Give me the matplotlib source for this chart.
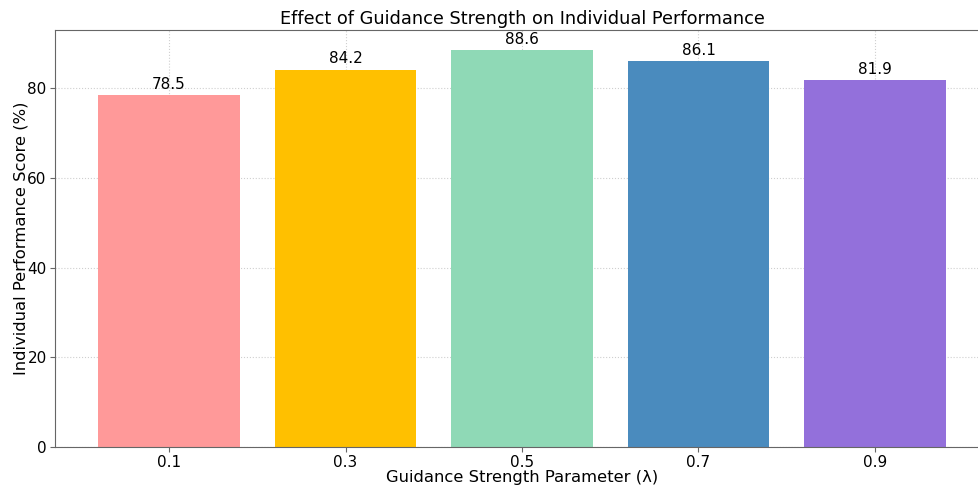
import matplotlib
matplotlib.use("Agg")
import matplotlib.pyplot as plt

categories = ["0.1", "0.3", "0.5", "0.7", "0.9"]
scores = [78.5, 84.2, 88.6, 86.1, 81.9]
colors = ["#FF9999", "#FFC000", "#8FD9B6", "#4A8BBE", "#9370DB"]

W, H = 979, 487
fig = plt.figure(figsize=(W / 100, H / 100), dpi=100)
ax = fig.add_axes([55 / W, (H - 447) / H, 934 / W, 417 / H])

x = list(range(len(categories)))
bars = ax.bar(x, scores, color=colors, width=0.8, zorder=2)
for xi, v in zip(x, scores):
    ax.text(xi, v + 0.7, f"{v}", ha="center", va="bottom", fontsize=11)

ax.set_xticks(x)
ax.set_xticklabels(categories, fontsize=11)
ax.tick_params(axis="both", labelsize=11, length=3.5, pad=2.5, color="#666666")
ax.set_xlim(-0.646, len(categories) - 1 + 0.646)
ax.set_ylim(0, max(scores) * 1.05)
ax.set_yticks([0, 20, 40, 60, 80])
ax.grid(True, linestyle=":", color="#bbbbbb", alpha=0.7, zorder=0)
ax.set_axisbelow(True)
for s in ax.spines.values():
    s.set_color("#666666")
ax.set_title("Effect of Guidance Strength on Individual Performance", fontsize=12.8, pad=4)
ax.set_xlabel("Guidance Strength Parameter (λ)", fontsize=11.8)
ax.set_ylabel("Individual Performance Score (%)", fontsize=11.8)
ax.xaxis.set_label_coords(0.5, -(470 - 447) / 417)
ax.yaxis.set_label_coords((29 - 55) / 934, 0.5)

fig.savefig("out.png", dpi=100)
